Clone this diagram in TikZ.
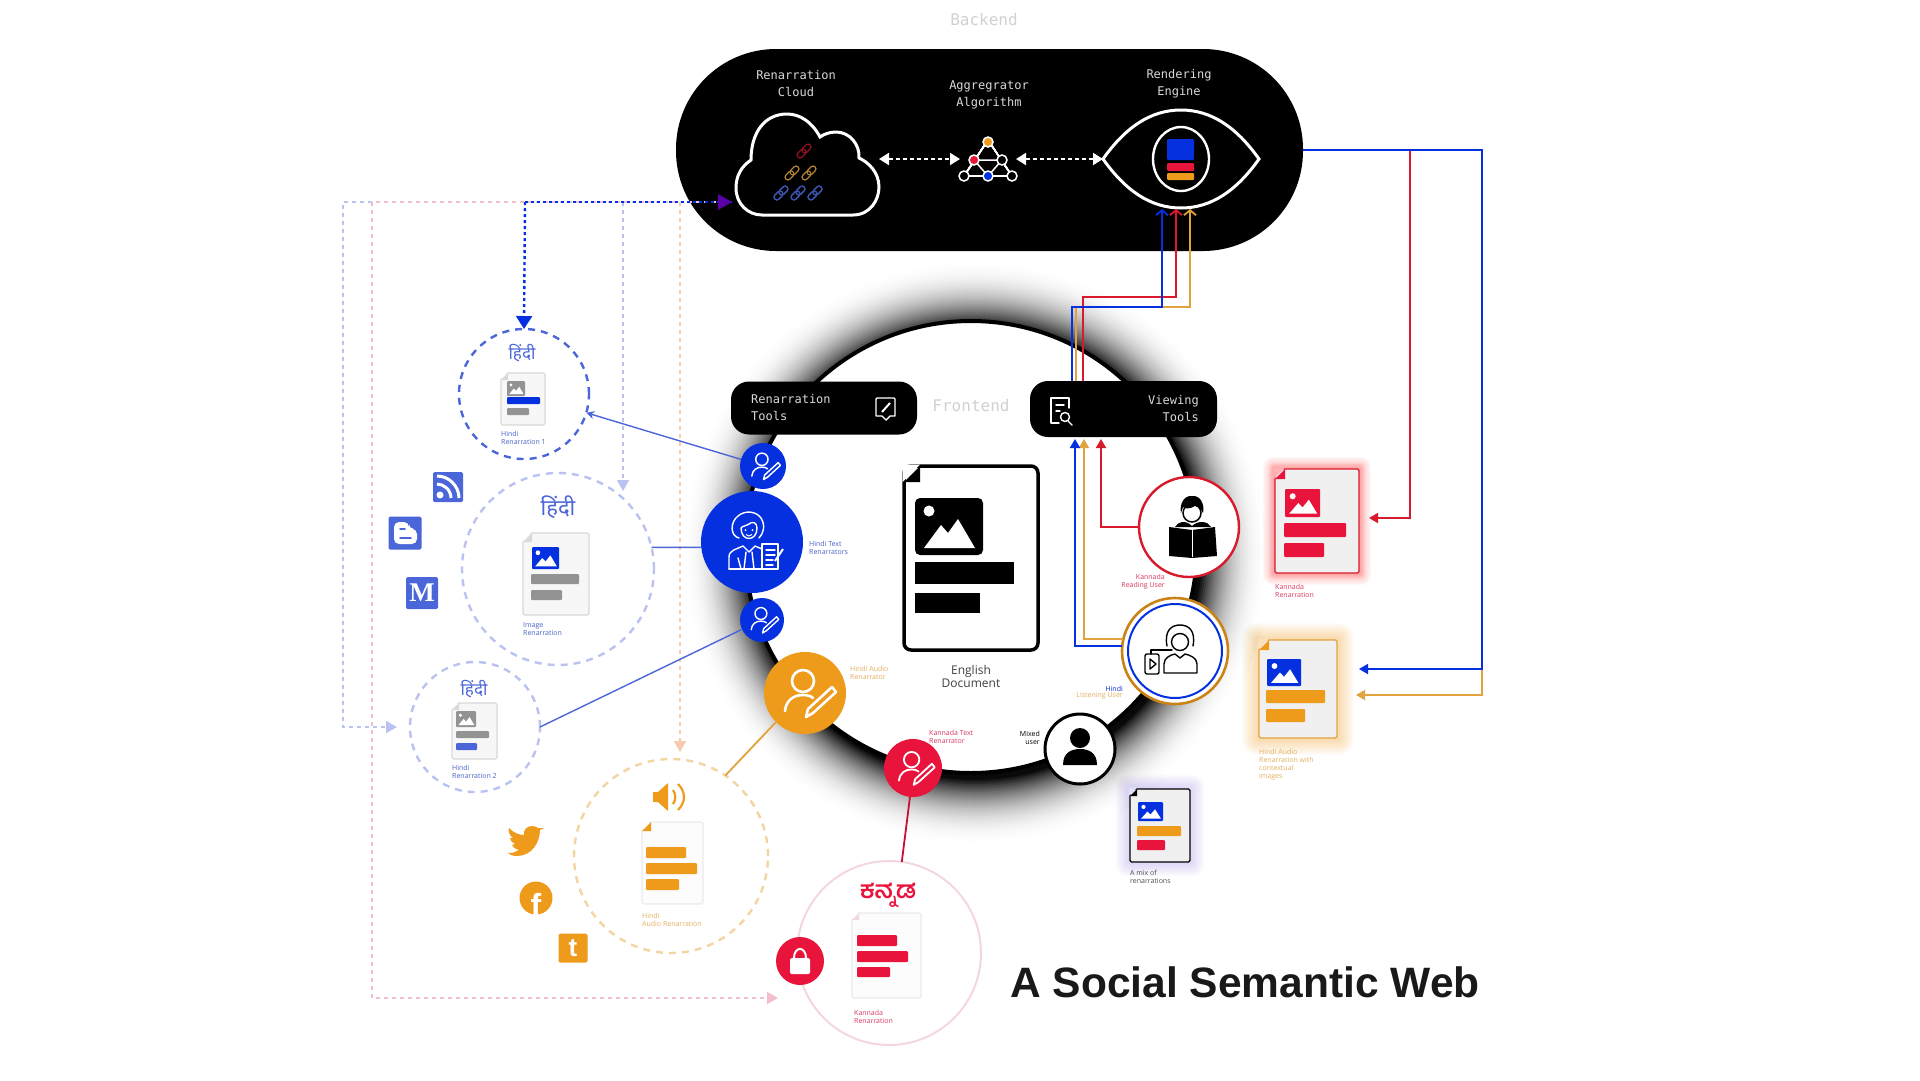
\documentclass[tikz,border=0pt]{standalone}
\usepackage{fontspec}
\usetikzlibrary{arrows.meta,calc,positioning}
\setmainfont{Open Sans}
\setmonofont{DejaVu Sans Mono}
\newfontfamily\hindifont[Script=Devanagari]{Noto Sans}
\newfontfamily\kannadafont[Script=Kannada]{Hind Mysuru}
\newfontfamily\headfont{Liberation Sans}
\newfontfamily\tilefont{Liberation Serif}
\definecolor{narrablue}{HTML}{0530E0}
\definecolor{midblue}{HTML}{4A66D8}
\definecolor{paleblue}{HTML}{B9C2F0}
\definecolor{crimson}{HTML}{E8143C}
\definecolor{wirered}{HTML}{D81A2C}
\definecolor{amber}{HTML}{EE9A1A}
\definecolor{wireamber}{HTML}{E2A23E}
\definecolor{paleamber}{HTML}{F3D5A2}
\definecolor{palepink}{HTML}{F3BECB}
\definecolor{softpink}{HTML}{F4D6DE}
\definecolor{palepeach}{HTML}{F7C9AE}
\definecolor{docgrey}{HTML}{939393}
\definecolor{tagblue}{HTML}{4A62C8}
\definecolor{tagamber}{HTML}{E3AE5E}
\definecolor{tagred}{HTML}{D8395C}
\tikzset{
  pillbox/.style={
    fill=black,
    text=white!85!black,
    font=\fontsize{12}{17}\selectfont\ttfamily,
    inner sep=0pt,
    outer sep=0pt
  },
  monotag/.style={
    text=white!85!black,
    align=center,
    inner sep=0pt,
    font=\fontsize{12}{17}\selectfont\ttfamily
  },
  zonetag/.style={
    text=black!18,
    inner sep=0pt,
    font=\fontsize{16}{18}\selectfont\ttfamily
  },
  usernode/.style={
    circle,
    inner sep=0pt,
    outer sep=0pt
  },
  zone/.style={
    circle,
    inner sep=0pt,
    outer sep=0pt,
    line width=2.4pt,
    dash pattern=on 7pt off 6pt
  },
  docpage/.style={
    rectangle,
    rounded corners=1.5pt,
    inner sep=0pt,
    outer sep=0pt,
    fill=black!3,
    draw=black!15,
    line width=1.2pt
  },
  tag/.style={
    inner sep=0pt,
    align=left,
    anchor=north west,
    font=\fontsize{7}{8}\selectfont
  },
  righttag/.style={
    inner sep=0pt,
    align=right,
    anchor=north east,
    font=\fontsize{7}{8}\selectfont
  },
  hindilabel/.style={
    inner sep=0pt,
    text=midblue,
    font=\fontsize{17}{18}\selectfont\hindifont
  },
  bar/.style={
    rounded corners=1pt
  },
  palewire/.style={
    line width=1.5pt,
    dash pattern=on 4pt off 4pt,
    -{Triangle[length=11pt,width=12pt]}
  },
  dotwire/.style={
    line width=2.4pt,
    dash pattern=on 3pt off 3pt,
    narrablue
  },
  whitelink/.style={
    white,
    line width=1.8pt,
    dash pattern=on 4pt off 3pt,
    {Triangle[length=10pt,width=12pt]}-{Triangle[length=10pt,width=12pt]}
  },
  wire/.style={
    line width=1.8pt,
    -{Triangle[length=9pt,width=10pt]}
  },
  eyewire/.style={
    line width=1.8pt,
    -{Straight Barb[length=5pt,width=12pt]}
  },
  bluelink/.style={
    midblue,
    line width=1.4pt
  },
  iconline/.style={
    line width=1.4pt,
    line join=round,
    line cap=round
  },
  socialtile/.style={
    rectangle,
    rounded corners=1.5pt,
    fill=#1,
    text=white,
    inner sep=0pt,
    outer sep=0pt
  }
}
\newcommand{\docfold}[4]{
  \fill[#4] ($(#1.north west)+(-1.5,-1.5)$) -- ($(#1.north west)+(#2,-1.5)$) -- ($(#1.north west)+(-1.5,#2)$) -- cycle;
  \fill[#3] ($(#1.north west)+(0,#2)$) -- ($(#1.north west)+(#2,0)$) -- ($(#1.north west)+(#2,#2)$) -- cycle;
}
\newcommand{\pictile}[5]{
  \begin{scope}[shift={(#1,#2)},xscale=#3,yscale=#4]
    \fill[#5,rounded corners=1pt] (0,0) rectangle (1,1);
    \fill[white] (.12,.88) -- (.38,.5) -- (.5,.66) -- (.68,.38) -- (.92,.88) -- cycle;
    \fill[white] (.22,.26) circle[x radius=.085,y radius=.11];
  \end{scope}
}
\newcommand{\penuser}[2]{
  \begin{scope}[shift={(#1)},scale=#2]
    \draw[white,line width=#2*2.6pt] (-2,-12) circle[radius=11];
    \draw[white,line width=#2*2.6pt,line cap=round] (-20,18) .. controls (-19,7) and (-11,2) .. (-2,2) .. controls (2,2) and (6,3) .. (8,5);
    \draw[white,line width=#2*2.6pt,line join=round] (27,-6) -- (31,-1) -- (8,20) -- (1,24) -- (3,16) -- cycle;
  \end{scope}
}
\newcommand{\chainlink}[3]{
  \begin{scope}[shift={(#1,#2)},rotate=45]
    \draw[#3,line width=1.2pt,rounded corners=2.5pt] (-8.5,-2.8) rectangle (1.5,2.8);
    \draw[#3,line width=1.2pt,rounded corners=2.5pt] (-1.5,-2.8) rectangle (8.5,2.8);
  \end{scope}
}
\newcommand{\glowframe}[6]{
  \foreach \g in {#6,...,1}
    \fill[#5,opacity=.03,rounded corners=\g pt] (#1-\g*1.2,#2-\g*1.2) rectangle (#3+\g*1.2,#4+\g*1.2);
}
\begin{document}
\begin{tikzpicture}[x=1pt,y=-1pt]
\useasboundingbox (0,0) rectangle (1920,1080);

% backend
\node[zonetag] (backtag) at (984,20) {Backend};
\node[pillbox,rounded corners=100pt,minimum width=627pt,minimum height=202pt] (backend) at (989.5,150) {};
\node[monotag] (cloudtag) at (796,84) {Renarration\\Cloud};
\node[monotag] (algotag) at (989,95) {Aggregrator\\Algorithm};
\node[monotag] (enginetag) at (1179,84) {Rendering\\Engine};
\node[minimum width=143pt,minimum height=102pt,inner sep=0pt,outer sep=0pt] (cloud) at (807.5,165) {};
\node[minimum width=56pt,minimum height=50pt,inner sep=0pt,outer sep=0pt] (algo) at (988,159) {};
\node[minimum width=156pt,minimum height=98pt,inner sep=0pt,outer sep=0pt] (eye) at (1181,159) {};
\draw[white,line width=3pt] (762,215) -- (853,215) .. controls (870,215) and (879,200) .. (879,187) .. controls (879,172) and (868,162) .. (859,158) .. controls (860,145) and (850,132) .. (836,132) .. controls (830,132) and (824,134) .. (820,137) .. controls (812,122) and (800,114) .. (787,114) .. controls (765,114) and (751,132) .. (751,160) .. controls (742,166) and (736,175) .. (736,188) .. controls (736,204) and (748,215) .. (762,215) -- cycle;
\chainlink{804}{151}{wirered!70!black}
\foreach \x in {792,809} \chainlink{\x}{173}{wireamber!80!black}
\foreach \x in {781,798,815} \chainlink{\x}{193}{midblue!80!black}
\draw[white,line width=1.5pt] (988,140) -- (964,176) -- (1012,176) -- cycle;
\draw[white,line width=1.5pt] (974,160) -- (1002,160) -- (988,176) -- cycle;
\fill[amber,draw=white,line width=1.5pt] (988,142) circle[radius=5];
\fill[crimson,draw=white,line width=1.5pt] (974,160) circle[radius=5];
\fill[black,draw=white,line width=1.5pt] (1002,160) circle[radius=5];
\fill[black,draw=white,line width=1.5pt] (964,176) circle[radius=5];
\fill[narrablue,draw=white,line width=1.5pt] (988,176) circle[radius=5];
\fill[black,draw=white,line width=1.5pt] (1012,176) circle[radius=5];
\draw[white,line width=3pt] (1103,159) .. controls (1125,128) and (1150,110) .. (1181,110) .. controls (1212,110) and (1237,128) .. (1259,159) .. controls (1237,190) and (1212,208) .. (1181,208) .. controls (1150,208) and (1125,190) .. (1103,159) -- cycle;
\draw[white,line width=2.4pt] (1181,159) ellipse[x radius=28,y radius=32];
\fill[narrablue,bar] (1167,139) rectangle (1194,160);
\fill[crimson,bar] (1167,163) rectangle (1194,171);
\fill[amber,bar] (1167,173) rectangle (1194,180);
\draw[whitelink] (cloud.east |- algo.west) -- (algo.west);
\draw[whitelink] (algo.east) -- (eye.west);

% frontend
\foreach \r in {297,295,...,227} {
  \pgfmathsetmacro{\shadeval}{100*pow((297-\r)/71,2.4)}
  \fill[black!\shadeval!white] (975,553) circle[radius=\r];
}
\fill[white,draw=black,line width=4pt] (971,547) circle[radius=226];
\node[zonetag] (fronttag) at (971,406) {Frontend};
\node[docpage,fill=white,draw=black,line width=3.5pt,rounded corners=7pt,minimum width=134pt,minimum height=184pt] (english) at (971,558) {};
\docfold{english}{16}{black}{white}
\fill[black,rounded corners=5pt] (915,498) rectangle (983,555);
\fill[white] (924,548) -- (941,525) -- (948,533) -- (958,519) -- (975,548) -- cycle;
\fill[white] (929,511) circle[radius=5.5];
\fill[black] (915,562) rectangle (1014,584);
\fill[black] (915,593) rectangle (980,613);
\node[inner sep=0pt,align=center,text=black!75,font=\fontsize{12}{13}\selectfont] (englishtag) at (971,676) {English\\Document};

\coordinate (vtblue) at (1072,385);
\coordinate (vtamber) at (1076,385);
\coordinate (vtred) at (1083,385);
\coordinate (eyeblue) at (1162,209);
\coordinate (eyered) at (1176,209);
\coordinate (eyeamber) at (1190,209);
\draw[eyewire,wireamber] (vtamber) -- ++(0,-78) -- (1190,307) -- (eyeamber);
\draw[eyewire,wirered] (vtred) -- ++(0,-88) -- (1176,297) -- (eyered);
\draw[eyewire,narrablue] (vtblue) -- ++(0,-78) -- (1162,307) -- (eyeblue);

\node[pillbox,rounded corners=18pt,minimum width=186pt,minimum height=53pt] (rentools) at (824,408) {};
\node[pillbox,rounded corners=18pt,minimum width=187pt,minimum height=56pt] (viewtools) at (1123.5,409) {};
\node[monotag,align=left,anchor=west] (rentag) at (751,408) {Renarration\\Tools};
\node[monotag,align=right,anchor=east] (viewtag) at (1199,409) {Viewing\\Tools};
\draw[white,iconline] (887,398) -- (877,398) .. controls (876,398) and (876,398) .. (876,399) -- (876,416) -- (882,416) -- (886,420) -- (890,416) -- (895,416) -- (895,399) -- (894,398) -- (887,398);
\draw[white,line width=2pt] (882,412) -- (890,403);
\draw[white,iconline] (1069,408) -- (1069,398) -- (1051,398) -- (1051,423) -- (1059,423);
\draw[white,iconline] (1056,405) -- (1064,405) (1056,411) -- (1060,411);
\draw[white,iconline] (1065,417) circle[radius=4.5];
\draw[white,iconline] (1068,421) -- (1072,425);

% readers and listeners
\coordinate (bluetip) at (1075,439);
\coordinate (ambertip) at (1084,439);
\coordinate (redtip) at (1101,439);
\node[usernode,fill=white,draw=amber!85!black,line width=2.6pt,minimum size=106pt] (listener) at (1175,651) {};
\node[usernode,fill=white,draw=wirered,line width=2.4pt,minimum size=100pt] (reader) at (1189,527) {};
\draw[wire,wireamber] (listener.167) -| (ambertip);
\draw[wire,narrablue] (listener.175) -| (bluetip);
\draw[wire,wirered] (reader.west) -| (redtip);
\node[usernode,fill=white,draw=black,line width=3pt,minimum size=70pt] (mixed) at (1080,749) {};
\fill[black] (1080,738) circle[radius=10];
\fill[black] (1063,765) .. controls (1063,752) and (1072,749) .. (1080,749) .. controls (1088,749) and (1097,752) .. (1097,765) -- cycle;

\draw[narrablue,line width=2pt] (1175,651) circle[radius=47];
\draw[black,iconline] (1180,642) circle[radius=8.5];
\draw[black,iconline] (1167,646) .. controls (1164,630) and (1172,625) .. (1180,625) .. controls (1188,625) and (1196,630) .. (1193,646);
\draw[black,iconline] (1164,673) -- (1164,664) .. controls (1164,658) and (1170,655) .. (1175,654) -- (1180,658) -- (1185,654) .. controls (1190,655) and (1197,658) .. (1197,664) -- (1197,673) -- cycle;
\draw[black,iconline,rounded corners=2pt] (1145,654) rectangle (1159,674);
\draw[black,iconline] (1150,659) -- (1150,669) -- (1156,664) -- cycle;
\draw[black,iconline] (1151,654) -- (1151,650) -- (1172,650);

\fill[black] (1169,527) -- (1192,530) -- (1215,527) -- (1217,556) -- (1192,558) -- (1169,556) -- cycle;
\fill[black] (1175,527) .. controls (1178,521) and (1186,520) .. (1192,526) .. controls (1198,520) and (1208,521) .. (1211,527) -- cycle;
\draw[white,line width=1pt] (1192,530) -- (1192,557);
\draw[black,line width=1.5pt,fill=white] (1192,513) circle[radius=9];
\fill[black] (1181,513) .. controls (1179,503) and (1185,495) .. (1192,496) .. controls (1200,495) and (1205,504) .. (1203,513) .. controls (1200,508) and (1198,506) .. (1195,506) .. controls (1190,509) and (1185,509) .. (1183,507) -- cycle;

\node[tag,righttag,text=tagred] (readertag) at (1165,574) {Kannada\\Reading User};
\node[tag,righttag,text=narrablue] (listtag) at (1123,686) {Hindi};
\node[tag,righttag,text=tagamber,below=0pt of listtag.south east,anchor=north east] (listtagb) {Listening User};
\node[tag,righttag,text=black] (mixedtag) at (1040,731) {Mixed\\user};

% renarrators
\node[usernode,fill=narrablue,minimum size=46pt] (renone) at (763,466) {};
\node[usernode,fill=narrablue,minimum size=102pt] (bigblue) at (752,542) {};
\node[usernode,fill=narrablue,minimum size=44pt] (rentwo) at (762,620) {};
\node[usernode,fill=amber,minimum size=82pt] (audioren) at (805,693) {};
\node[usernode,fill=crimson,minimum size=58pt] (kanren) at (913,768) {};
\penuser{renone}{.56}
\penuser{rentwo}{.54}
\penuser{audioren}{1}
\penuser{kanren}{.7}
\draw[white,iconline] (741,528) .. controls (741,542) and (757,542) .. (757,528) .. controls (757,522) and (752,521) .. (749,524) .. controls (746,526) and (742,526) .. (741,528);
\draw[white,iconline] (739,538) .. controls (730,536) and (730,522) .. (738,516) .. controls (745,510) and (756,511) .. (761,518) .. controls (766,526) and (763,534) .. (759,538);
\fill[white] (745.5,530) circle[radius=1] (752.5,530) circle[radius=1];
\draw[white,line width=1pt] (746,534.5) .. controls (748,536.5) and (750,536.5) .. (752,534.5);
\draw[white,iconline] (729,569) -- (729,557) .. controls (729,550) and (737,549) .. (743,546) -- (749,552) -- (755,546) -- (762,549);
\draw[white,iconline] (729,569) -- (762,569);
\draw[white,iconline] (746,552) -- (744,569) (752,552) -- (754,569);
\draw[white,iconline] (738,558) -- (741,569);
\draw[white,iconline] (762,544) -- (778,544) -- (778,569) -- (762,569) -- cycle;
\draw[white,iconline] (766,550) -- (775,550) (766,555) -- (775,555) (766,560) -- (773,560) (766,565) -- (773,565);
\draw[white,line width=2pt] (775,561) -- (783,549);

\node[tag,text=tagblue] (hinditexttag) at (809,541) {Hindi Text\\Renarrators};
\node[tag,text=tagamber] (hindiaudiotag) at (850,666) {Hindi Audio\\Renarrator};
\node[tag,text=tagred] (kantexttag) at (929,730) {Kannada Text\\Renarrator};

% hindi renarrations
\node[zone,draw=midblue,minimum size=130pt] (hone) at (524,394) {};
\node[zone,draw=paleblue,minimum size=192pt] (hmid) at (558,569) {};
\node[zone,draw=paleblue,minimum size=130pt] (hlow) at (475,727) {};
\node[hindilabel] (honetitle) at (522,353) {हिंदी};
\node[hindilabel,font=\fontsize{22}{24}\selectfont\hindifont] (hmidtitle) at (558,507) {हिंदी};
\node[hindilabel] (hlowtitle) at (474,689) {हिंदी};

\node[docpage,minimum width=44pt,minimum height=52pt] (honedoc) at (523,399) {};
\docfold{honedoc}{7}{black!15}{white}
\pictile{507}{381}{18}{15}{docgrey}
\fill[narrablue,bar] (507,397) rectangle (540,404);
\fill[docgrey,bar] (507,408) rectangle (529,415);
\node[tag,text=tagblue,below=6pt of honedoc.south west,anchor=north west] (honetag) {Hindi\\Renarration 1};

\node[docpage,minimum width=66pt,minimum height=82pt] (hmiddoc) at (556,574) {};
\docfold{hmiddoc}{9}{black!15}{white}
\pictile{532}{547}{27}{22}{narrablue}
\fill[docgrey,bar] (531,574) rectangle (579,584);
\fill[docgrey,bar] (531,590) rectangle (562,600);
\node[tag,text=tagblue,below=7pt of hmiddoc.south west,anchor=north west] (hmidtag) {Image\\Renarration};

\node[docpage,minimum width=45pt,minimum height=56pt] (hlowdoc) at (474.5,731) {};
\docfold{hlowdoc}{7}{black!15}{white}
\pictile{456}{711}{20}{16}{docgrey}
\fill[docgrey,bar] (456,731) rectangle (489,738);
\fill[midblue,bar] (456,743) rectangle (477,750);
\node[tag,text=tagblue,below=6pt of hlowdoc.south west,anchor=north west] (hlowtag) {Hindi\\Renarration 2};

\node[socialtile=midblue,minimum size=30pt] (rsstile) at (448,487) {};
\fill[white] (440,495) circle[radius=3.5];
\draw[white,line width=3pt] (437,484) .. controls (444,484) and (451,490) .. (451,498);
\draw[white,line width=3pt] (437,476) .. controls (449,476) and (459,486) .. (459,498);
\node[socialtile=midblue,minimum size=33pt] (blogtile) at (405,533) {};
\fill[white,rounded corners=5pt] (394,522) -- (409,522) -- (409,529) -- (417,529) -- (417,544) -- (394,544) -- cycle;
\draw[midblue,line width=1.5pt,line cap=round] (400,529) -- (405,529) (400,538) -- (411,538);
\node[socialtile=midblue,minimum size=32pt,font=\fontsize{27}{27}\selectfont\bfseries\tilefont] (mediumtile) at (422,593) {M};

% audio and kannada renarrations
\node[zone,draw=paleamber,minimum size=194pt] (audiozone) at (671,856) {};
\fill[amber,rounded corners=.5pt] (653,792) -- (658,792) -- (668,783) -- (668,811) -- (658,802) -- (653,802) -- cycle;
\draw[amber,line width=2.2pt] (673,790) .. controls (676,794) and (676,800) .. (673,804);
\draw[amber,line width=2.2pt] (678,784) .. controls (686,792) and (686,802) .. (678,810);
\node[docpage,fill=black!1,draw=black!8,minimum width=61pt,minimum height=82pt] (audiodoc) at (672.5,863) {};
\docfold{audiodoc}{9}{amber}{white}
\fill[amber,bar] (646,847) rectangle (686,858);
\fill[amber,bar] (646,863) rectangle (697,874);
\fill[amber,bar] (646,879) rectangle (679,890);
\node[tag,text=tagamber,below=9pt of audiodoc.south west,anchor=north west] (audiotag) {Hindi\\Audio Renarration};

\fill[amber] (544,828) -- (540,830) .. controls (540,842) and (532,856) .. (517,856) .. controls (513,856) and (510,855) .. (508,853) .. controls (513,853) and (516,852) .. (519,850) .. controls (515,849) and (513,847) .. (512,845) -- (515,844) .. controls (512,843) and (510,840) .. (510,838) -- (513,838) .. controls (509,835) and (508,831) .. (509,828) .. controls (513,832) and (518,835) .. (524,835) .. controls (523,830) and (527,826) .. (532,826) .. controls (535,826) and (537,827) .. (538,828) -- cycle;
\node[socialtile=amber,circle,minimum size=33pt] (fbtile) at (536,898) {};
\node[inner sep=0pt,text=white,font=\fontsize{32}{32}\selectfont\bfseries\headfont,anchor=south,yshift=-2pt] (fbletter) at (fbtile.south) {f};
\node[socialtile=amber,minimum size=29pt,font=\fontsize{26}{26}\selectfont\bfseries\headfont] (tumblrtile) at (573,948) {t};

\node[usernode,draw=softpink,line width=2pt,minimum size=184pt] (kanzone) at (889,953) {};
\node[inner sep=0pt,text=crimson,font=\fontsize{24}{26}\selectfont\bfseries\kannadafont] (kantitle) at (888,895) {ಕನ್ನಡ};
\node[docpage,fill=black!1,draw=black!8,minimum width=69pt,minimum height=85pt] (kandoc) at (886.5,955.5) {};
\docfold{kandoc}{7}{softpink}{white}
\fill[crimson,bar] (857,935) rectangle (897,946);
\fill[crimson,bar] (857,951) rectangle (908,962);
\fill[crimson,bar] (857,967) rectangle (890,977);
\node[tag,text=tagred,below=12pt of kandoc.south west,anchor=north west,xshift=2pt] (kantag) {Kannada\\Renarration};
\node[usernode,fill=crimson,minimum size=48pt] (lockdot) at (800,961) {};
\fill[white,rounded corners=1.5pt] (790,958) rectangle (810,974);
\draw[white,line width=2pt] (794,958) .. controls (794,946) and (806,946) .. (806,958);

% right hand renarrations
\glowframe{1275}{469}{1359}{573}{red}{10}
\glowframe{1275}{469}{1359}{573}{red}{5}
\node[docpage,fill=black!6,draw=wirered,minimum width=84pt,minimum height=104pt] (kanview) at (1317,521) {};
\docfold{kanview}{10}{crimson}{red!30!white}
\pictile{1285}{489}{35}{28}{crimson}
\fill[crimson,bar] (1284,523) rectangle (1346,537);
\fill[crimson,bar] (1284,543) rectangle (1324,557);
\node[tag,text=tagred,below=11pt of kanview.south west,anchor=north west] (kanviewtag) {Kannada\\Renarration};

\glowframe{1259}{640}{1337}{738}{amber}{14}
\node[docpage,fill=black!6,draw=wireamber,minimum width=78pt,minimum height=98pt] (audioview) at (1298,689) {};
\docfold{audioview}{10}{amber}{amber!30!white}
\pictile{1267}{659}{34}{27}{narrablue}
\fill[amber,bar] (1266,690) rectangle (1325,703);
\fill[amber,bar] (1266,709) rectangle (1305,722);
\node[tag,text=tagamber,below=11pt of audioview.south west,anchor=north west] (audioviewtag) {Hindi Audio\\Renarration with\\contextual\\images};

\glowframe{1130}{789}{1190}{862}{violet!40!blue!50!white}{12}
\node[docpage,fill=black!6,draw=black,minimum width=60pt,minimum height=73pt] (mixview) at (1160,825.5) {};
\docfold{mixview}{7}{black}{blue!12!white}
\pictile{1138}{802}{25}{19}{narrablue}
\fill[amber,bar] (1137,826) rectangle (1181,836);
\fill[crimson,bar] (1137,840) rectangle (1165,850);
\node[tag,text=black!70,below=8pt of mixview.south west,anchor=north west] (mixviewtag) {A mix of\\renarrations};

% connectors
\coordinate (cloudin) at (732,202);
\coordinate (violetdrop) at (623,202);
\coordinate (violetend) at (623,491);
\coordinate (peachdrop) at (680,202);
\coordinate (peachend) at (680,752);
\coordinate (pinkend) at (778,998);
\coordinate (dotdrop) at (525,202);
\draw[palewire,paleblue,shorten >=13pt] (cloudin) -- (343,202) |- (hlow.west);
\draw[palewire,palepink] (cloudin) -- (372,202) |- (pinkend);
\draw[palewire,paleblue] (violetdrop) -- (violetend);
\draw[palewire,palepeach] (peachdrop) -- (peachend);
\draw[dotwire] (dotdrop) -- (cloudin);
\fill[violet!70!blue] (732,202) -- (718,194) -- (718,210) -- cycle;
\draw[dotwire,-{Triangle[length=13pt,width=16pt]}] (dotdrop) -- (hone.north);

\draw[bluelink,-{Stealth[length=8pt,width=8pt]}] (renone) -- (hone);
\draw[bluelink] (hmid.13.5) -- (bigblue.186);
\draw[bluelink] (hlow.east) -- (rentwo.205);
\draw[wireamber,line width=1.8pt] (audioren.225) -- (audiozone.56);
\draw[crimson!85!black,line width=1.8pt] (kanren.264) -- (kanzone.82.5);

\coordinate (wirerise) at (1482,152);
\coordinate (blueturn) at (1482,669);
\coordinate (amberturn) at (1482,695);
\coordinate (redturn) at (1410,518);
\coordinate (blueend) at (1359,669);
\coordinate (amberend) at (1356,695);
\coordinate (redend) at (1369,518);
\draw[wire,wireamber] (backend.east) -| (amberturn) -- (amberend);
\draw[wire,wirered] (backend.east) -| (redturn) -- (redend);
\draw[wire,narrablue] (backend.east) -| (blueturn) -- (blueend);

\node[inner sep=0pt,text=black!90,font=\fontsize{42.5}{44}\selectfont\bfseries\headfont] (headline) at (1245,982) {A Social Semantic Web};
\end{tikzpicture}
\end{document}
